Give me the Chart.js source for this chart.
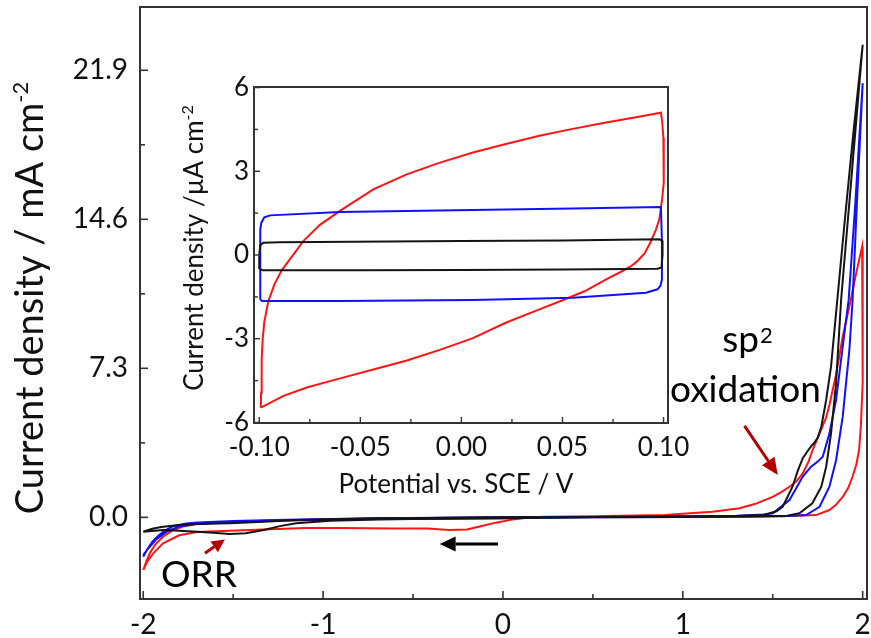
<!DOCTYPE html>
<html><head><meta charset="utf-8">
<script src="https://cdn.jsdelivr.net/npm/chart.js@4.4.0/dist/chart.umd.min.js"></script>
<style>
html,body{margin:0;padding:0;background:#fff;}
#wrap{position:relative;width:871px;height:638px;overflow:hidden;}
#main{position:absolute;left:0;top:0;width:871px;height:638px;}
#inset{position:absolute;left:150px;top:60px;width:560px;height:460px;}
</style></head><body>
<div id="wrap"><canvas id="main" width="871" height="638"></canvas><canvas id="inset" width="560" height="460"></canvas></div>
<script>
// ---------- main plot data (potential / V, current density / mA cm-2) ----------
const blackV = [-2.00,-1.95,-1.90,-1.80,-1.70,-1.52,-1.30,-1.15,-0.90,-0.69,-0.40,0.00,0.50,1.00,1.30,1.45,1.52,1.555,1.61,1.64,1.667,1.694,1.715,1.73,1.75,1.77,1.797,1.824,1.852,1.90,1.95,2.00,
                1.94,1.88,1.852,1.824,1.797,1.77,1.72,1.648,1.58,1.40,1.00,0.50,0.00,-0.50,-0.69,-0.96,-1.15,-1.24,-1.33,-1.43,-1.52,-1.61,-1.70,-1.80,-1.89,-2.00];
const blackJ = [-0.70,-0.56,-0.47,-0.38,-0.33,-0.29,-0.20,-0.13,-0.08,-0.05,-0.03,0.00,0.02,0.04,0.06,0.12,0.30,0.52,1.50,2.30,2.90,3.25,3.50,3.64,3.90,4.44,5.75,7.38,10.0,14.5,19.0,23.15,
                16.9,10.65,6.57,4.10,2.48,1.50,0.69,0.20,0.08,0.04,0.02,0.00,-0.04,-0.08,-0.10,-0.17,-0.29,-0.43,-0.62,-0.78,-0.82,-0.75,-0.70,-0.66,-0.62,-0.70];
const blueV = [-2.00,-1.98,-1.95,-1.91,-1.87,-1.83,-1.76,-1.70,-1.50,-1.20,-0.70,0.00,0.50,1.00,1.30,1.45,1.50,1.593,1.667,1.713,1.75,1.778,1.815,1.852,1.898,1.922,1.96,2.00,
               1.97,1.944,1.926,1.889,1.852,1.815,1.76,1.686,1.55,1.00,0.50,0.00,-0.70,-1.20,-1.50,-1.70,-1.80,-1.87,-1.93,-1.97,-2.00];
const blueJ = [-1.93,-1.60,-1.20,-0.85,-0.60,-0.42,-0.30,-0.25,-0.18,-0.12,-0.04,0.00,0.02,0.04,0.08,0.14,0.20,0.85,2.00,2.48,2.73,2.97,4.10,5.75,9.00,10.65,15.5,21.27,
               15.8,10.65,8.20,4.93,2.80,1.50,0.52,0.11,0.05,0.02,0.00,-0.04,-0.08,-0.15,-0.22,-0.32,-0.45,-0.70,-1.10,-1.50,-1.85];
const redV = [-2.00,-1.98,-1.96,-1.93,-1.89,-1.84,-1.78,-1.70,-1.55,-1.30,-1.00,-0.60,0.00,0.50,0.90,1.04,1.165,1.315,1.40,1.50,1.55,1.593,1.63,1.667,1.70,1.722,1.76,1.797,1.815,1.852,1.89,1.93,1.965,1.997,
              2.00,2.00,2.00,1.99,1.98,1.965,1.944,1.92,1.889,1.85,1.815,1.74,1.60,1.30,0.80,0.50,0.24,0.15,0.056,-0.04,-0.13,-0.20,-0.30,-0.42,-0.60,-0.90,-1.10,-1.33,-1.52,-1.70,-1.80,-1.89,-1.944,-1.98,-2.00];
const redJ = [-2.58,-2.10,-1.70,-1.30,-0.95,-0.65,-0.45,-0.33,-0.24,-0.16,-0.10,-0.04,0.00,0.05,0.12,0.20,0.27,0.45,0.65,1.00,1.25,1.50,1.75,2.15,2.75,3.30,4.10,4.90,5.50,7.00,8.90,10.5,12.0,13.27,
              12.0,9.0,6.6,4.5,3.3,2.6,2.0,1.45,1.00,0.60,0.36,0.11,0.06,0.05,0.05,0.05,0.03,0.00,-0.10,-0.26,-0.45,-0.60,-0.62,-0.55,-0.55,-0.52,-0.52,-0.60,-0.66,-0.72,-0.88,-1.27,-1.76,-2.20,-2.58];

// ---------- inset data (potential / V, current density / uA cm-2) ----------
const insetBlackV = [-0.1000,-0.1000,-0.0995,-0.0980,-0.0900,0.0000,0.0500,0.0980,0.0995,0.0995,0.0990,0.0970,0.0500,0.0000,-0.0500,-0.0980,-0.1000];
const insetBlackJ = [-0.50,0.00,0.35,0.44,0.46,0.50,0.52,0.56,0.50,0.00,-0.45,-0.49,-0.52,-0.54,-0.55,-0.55,-0.50];
const insetBlueV = [-0.0995,-0.0995,-0.0990,-0.0975,-0.0946,-0.0601,0.0057,0.0551,0.0987,0.0992,0.0992,0.0985,0.0970,0.0913,0.0551,0.0057,-0.0601,-0.0985,-0.0995];
const insetBlueJ = [-1.60,0.90,1.15,1.35,1.42,1.54,1.61,1.67,1.72,0.50,-0.87,-1.10,-1.23,-1.35,-1.53,-1.61,-1.65,-1.65,-1.60];
const insetRedV = [-0.0992,-0.0991,-0.0989,-0.0987,-0.0983,-0.0975,-0.0955,-0.0925,-0.0889,-0.0848,-0.0782,-0.0700,-0.0601,-0.0436,-0.0271,-0.0110,0.0057,0.0220,0.0386,0.0550,0.0716,0.0850,0.0987,
                   0.0993,0.0999,0.1002,0.1000,0.0993,0.0979,0.0962,0.0935,0.0905,0.0870,0.0839,0.0790,0.0716,0.0609,0.0500,0.0386,0.0222,0.0057,-0.0107,-0.0270,-0.0436,-0.0600,-0.0765,-0.0880,-0.0992];
const insetRedJ = [-5.47,-4.93,-4.30,-3.74,-3.02,-2.40,-1.65,-1.05,-0.55,-0.15,0.50,1.08,1.58,2.35,2.89,3.30,3.67,3.98,4.27,4.52,4.75,4.92,5.10,
                   4.80,4.20,3.40,2.60,2.00,1.28,0.90,0.45,0.05,-0.22,-0.40,-0.60,-0.87,-1.30,-1.62,-1.95,-2.42,-2.98,-3.40,-3.78,-4.10,-4.42,-4.75,-5.05,-5.47];

// ---------- tick labels ----------
const xMajor = [-2,-1,0,1,2];
const xMinor = [-1.5,-0.5,0.5,1.5];
const yMajor = [0, 7.3, 14.6, 21.9];
const yMinor = [3.65, 10.95, 18.25];
const insetXMajor = [-0.10,-0.05,0.00,0.05,0.10];
const insetXMinor = [-0.075,-0.025,0.025,0.075];
const insetYMajor = [-6,-3,0,3,6];
const insetYMinor = [-4.5,-1.5,1.5,4.5];

// ---------- annotations (data coordinates of main plot) ----------
const sp2Arrow = {from:[1.343,4.48], to:[1.528,2.07]};
const orrArrow = {from:[-1.657,-1.76], to:[-1.546,-1.08]};
const scanArrow = {from:[-0.028,-1.31], to:[-0.352,-1.31]};
const sp2Label = {at:[1.357,8.10]};
const oxLabel = {at:[1.348,5.65]};
const orrLabel = {at:[-1.69,-3.40]};

const FONT = 'Lato, "Open Sans", sans-serif';
const AXIS = '#333333';
const TEXT = '#111111';
const C_BLACK = '#141414', C_BLUE = '#1010ff', C_RED = '#ff1414', C_ARROW = '#b40000';

Chart.defaults.font.family = FONT;
Chart.defaults.color = TEXT;

function pts(xs, ys){ return xs.map((v,i)=>({x:v, y:ys[i]})); }
function ds(xs, ys, color){
  return {data:pts(xs,ys), borderColor:color, backgroundColor:color, borderWidth:2, pointRadius:0, showLine:true, tension:0, fill:false};
}
function setTicks(major, minor){
  return function(scale){ scale.ticks = major.concat(minor).sort((a,b)=>a-b).map(v=>({value:v})); };
}
function fixSize(prop, val){
  return function(s){ s[prop]=val; s.paddingLeft=0; s.paddingRight=0; s.paddingTop=0; s.paddingBottom=0; };
}
function drawTicks(ctx, scale, values, len, horizontal, base){
  values.forEach(v=>{
    const p = scale.getPixelForValue(v);
    ctx.beginPath();
    if(horizontal){ ctx.moveTo(p, base); ctx.lineTo(p, base-len); }
    else { ctx.moveTo(base, p); ctx.lineTo(base+len, p); }
    ctx.stroke();
  });
}
function rotatedSupText(ctx, baseX, centerY, main, sup, size, supSize, raise){
  ctx.save();
  ctx.translate(baseX, centerY);
  ctx.rotate(-Math.PI/2);
  ctx.font = size+'px '+FONT;
  const wm = ctx.measureText(main).width;
  ctx.font = supSize+'px '+FONT;
  const ws = ctx.measureText(sup).width;
  const x0 = -(wm+ws)/2;
  ctx.textBaseline = 'alphabetic'; ctx.textAlign = 'left';
  ctx.font = size+'px '+FONT; ctx.fillText(main, x0, 0);
  ctx.font = supSize+'px '+FONT; ctx.fillText(sup, x0+wm, -raise);
  ctx.restore();
}
function arrow(ctx, x1,y1,x2,y2, color, lw, headLen, headW){
  const ang = Math.atan2(y2-y1, x2-x1);
  const bx = x2 - headLen*Math.cos(ang), by = y2 - headLen*Math.sin(ang);
  ctx.strokeStyle = color; ctx.fillStyle = color; ctx.lineWidth = lw;
  ctx.beginPath(); ctx.moveTo(x1,y1); ctx.lineTo(bx,by); ctx.stroke();
  const nx = -Math.sin(ang)*headW/2, ny = Math.cos(ang)*headW/2;
  ctx.beginPath(); ctx.moveTo(x2,y2); ctx.lineTo(bx+nx,by+ny); ctx.lineTo(bx-nx,by-ny); ctx.closePath(); ctx.fill();
}

const mainDecor = {
  id:'mainDecor',
  afterDraw(chart){
    const {ctx, chartArea:a, scales:{x,y}} = chart;
    ctx.save();
    ctx.strokeStyle = AXIS; ctx.lineWidth = 1.6;
    drawTicks(ctx, x, xMajor, 8, true, a.bottom);
    drawTicks(ctx, x, xMinor, 5, true, a.bottom);
    drawTicks(ctx, y, yMajor, 8, false, a.left);
    drawTicks(ctx, y, yMinor, 5, false, a.left);
    ctx.lineWidth = 2;
    ctx.strokeRect(a.left, a.top, a.right-a.left, a.bottom-a.top);
    ctx.fillStyle = TEXT;
    rotatedSupText(ctx, 43, 298, 'Current density / mA cm', '-2', 38, 22, 15);
    const P = (d)=>[x.getPixelForValue(d[0]), y.getPixelForValue(d[1])];
    let s = P(sp2Arrow.from), t = P(sp2Arrow.to);
    arrow(ctx, s[0],s[1],t[0],t[1], C_ARROW, 3, 17, 15);
    s = P(orrArrow.from); t = P(orrArrow.to);
    arrow(ctx, s[0],s[1],t[0],t[1], C_ARROW, 3, 13, 13);
    s = P(scanArrow.from); t = P(scanArrow.to);
    arrow(ctx, s[0],s[1],t[0],t[1], '#000000', 3, 16, 15);
    ctx.fillStyle = '#000000';
    ctx.textBaseline = 'alphabetic';
    let q = P(sp2Label.at);
    ctx.font = '37px '+FONT; const wsp = ctx.measureText('sp').width;
    ctx.font = '22px '+FONT; const w2 = ctx.measureText('2').width;
    ctx.textAlign = 'left';
    ctx.font = '37px '+FONT; ctx.fillText('sp', q[0]-(wsp+w2)/2, q[1]);
    ctx.font = '22px '+FONT; ctx.fillText('2', q[0]-(wsp+w2)/2+wsp+1, q[1]-9);
    ctx.textAlign = 'center';
    q = P(oxLabel.at); ctx.font = '37px '+FONT; ctx.fillText('oxidation', q[0], q[1]);
    q = P(orrLabel.at); ctx.fillText('ORR', q[0], q[1]);
    ctx.restore();
  }
};

new Chart(document.getElementById('main'), {
  type:'scatter',
  data:{datasets:[ds(blackV,blackJ,C_BLACK), ds(blueV,blueJ,C_BLUE), ds(redV,redJ,C_RED)]},
  options:{
    responsive:false, animation:false, devicePixelRatio:1,
    layout:{padding:{left:0, top:7, right:4, bottom:0}},
    plugins:{legend:{display:false}, tooltip:{enabled:false}},
    scales:{
      x:{type:'linear', min:-2.018, max:2.024,
         afterBuildTicks:setTicks(xMajor,xMinor),
         afterFit:fixSize('height',39),
         grid:{display:false, drawTicks:false}, border:{display:false},
         ticks:{autoSkip:false, maxRotation:0, minRotation:0, padding:9, color:TEXT, font:{size:28},
                callback:(v)=>xMajor.includes(v)?String(v):''}},
      y:{type:'linear', min:-4.0, max:25.0,
         afterBuildTicks:setTicks(yMajor,yMinor),
         afterFit:fixSize('width',140),
         grid:{display:false, drawTicks:false}, border:{display:false},
         ticks:{autoSkip:false, padding:12, color:TEXT, font:{size:28},
                callback:(v)=>yMajor.includes(v)?v.toFixed(1):''}}
    }
  },
  plugins:[mainDecor]
});

const insetDecor = {
  id:'insetDecor',
  afterDraw(chart){
    const {ctx, chartArea:a, scales:{x,y}} = chart;
    ctx.save();
    ctx.strokeStyle = AXIS; ctx.lineWidth = 1.4;
    drawTicks(ctx, x, insetXMajor, 6, true, a.bottom);
    drawTicks(ctx, x, insetXMinor, 4, true, a.bottom);
    drawTicks(ctx, y, insetYMajor, 6, false, a.left);
    drawTicks(ctx, y, insetYMinor, 4, false, a.left);
    ctx.lineWidth = 2;
    ctx.strokeRect(a.left, a.top, a.right-a.left, a.bottom-a.top);
    ctx.fillStyle = TEXT;
    rotatedSupText(ctx, 53, 188, 'Current density /\u00b5A cm', '-2', 26, 16, 10);
    ctx.font = '26px '+FONT; ctx.textAlign='center'; ctx.textBaseline='alphabetic';
    ctx.fillText('Potential vs. SCE / V', 306, 433);
    ctx.restore();
  }
};

new Chart(document.getElementById('inset'), {
  type:'scatter',
  data:{datasets:[ds(insetBlackV,insetBlackJ,C_BLACK), ds(insetBlueV,insetBlueJ,C_BLUE), ds(insetRedV,insetRedJ,C_RED)]},
  options:{
    responsive:false, animation:false, devicePixelRatio:1,
    layout:{padding:{left:0, top:27, right:42, bottom:0}},
    plugins:{legend:{display:false}, tooltip:{enabled:false}},
    scales:{
      x:{type:'linear', min:-0.1026, max:0.1022,
         afterBuildTicks:setTicks(insetXMajor,insetXMinor),
         afterFit:fixSize('height',97),
         grid:{display:false, drawTicks:false}, border:{display:false},
         ticks:{autoSkip:false, maxRotation:0, minRotation:0, padding:9, color:TEXT, font:{size:26},
                callback:(v)=>insetXMajor.some(m=>Math.abs(m-v)<1e-9)?v.toFixed(2):''}},
      y:{type:'linear', min:-6.02, max:6.02,
         afterBuildTicks:setTicks(insetYMajor,insetYMinor),
         afterFit:fixSize('width',104),
         grid:{display:false, drawTicks:false}, border:{display:false},
         ticks:{autoSkip:false, padding:5, color:TEXT, font:{size:26},
                callback:(v)=>insetYMajor.includes(v)?String(v):''}}
    }
  },
  plugins:[insetDecor]
});
</script>
</body></html>
